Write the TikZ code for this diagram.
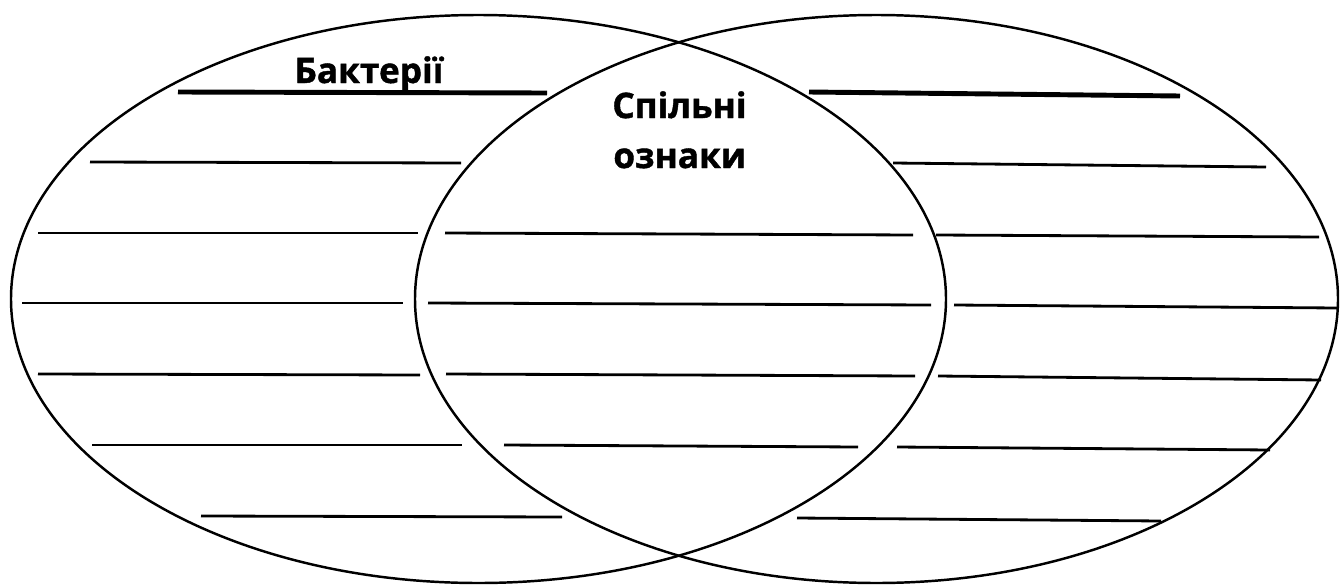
\documentclass[tikz,border=0pt]{standalone}
\usepackage{fontspec}
\newfontfamily\labelfont[BoldFeatures={FakeBold=1.2}]{Open Sans}
\begin{document}
\begin{tikzpicture}[x=0.02cm,y=-0.02cm,
  ring/.style={draw=black,line width=1.4pt},
  rule/.style={draw=black,line width=1.6pt},
  headrule/.style={draw=black,line width=2.8pt},
  title/.style={font=\labelfont\bfseries\fontsize{20}{24}\selectfont,inner sep=0pt}]
\useasboundingbox (0,0) rectangle (1340,585);
% circles
\draw[ring] (478.5,299) ellipse [x radius=467.5, y radius=284];
\draw[ring] (876.5,299) ellipse [x radius=461.5, y radius=284];
% headings
\node[title,anchor=base] (bact) at (369,83) {Бактерії};
\node[title,anchor=base west] (spil) at (612,118) {Спільні};
\node[title,anchor=base west] (ozn) at (613,168) {ознаки};
% left part
\draw[headrule] (178,92) -- (547,93);
\draw[rule] (90,162) -- (461,163);
\draw[rule] (38,233) -- (418,233);
\draw[rule] (22,303) -- (403,303);
\draw[rule] (38,374) -- (420,375);
\draw[rule] (92,445) -- (462,445);
\draw[rule] (201,516) -- (562,517);
% middle part
\draw[rule] (445,233) -- (913,235);
\draw[rule] (428,303) -- (931,305);
\draw[rule] (446,374) -- (915,376);
\draw[rule] (504,445) -- (858,447);
% right part
\draw[headrule] (809,92) -- (1180,96);
\draw[rule] (893,163) -- (1266,167);
\draw[rule] (936,235) -- (1319,237);
\draw[rule] (954,305) -- (1337,308);
\draw[rule] (938,376) -- (1321,380);
\draw[rule] (897,447) -- (1270,450);
\draw[rule] (797,518) -- (1161,521);
\end{tikzpicture}
\end{document}
